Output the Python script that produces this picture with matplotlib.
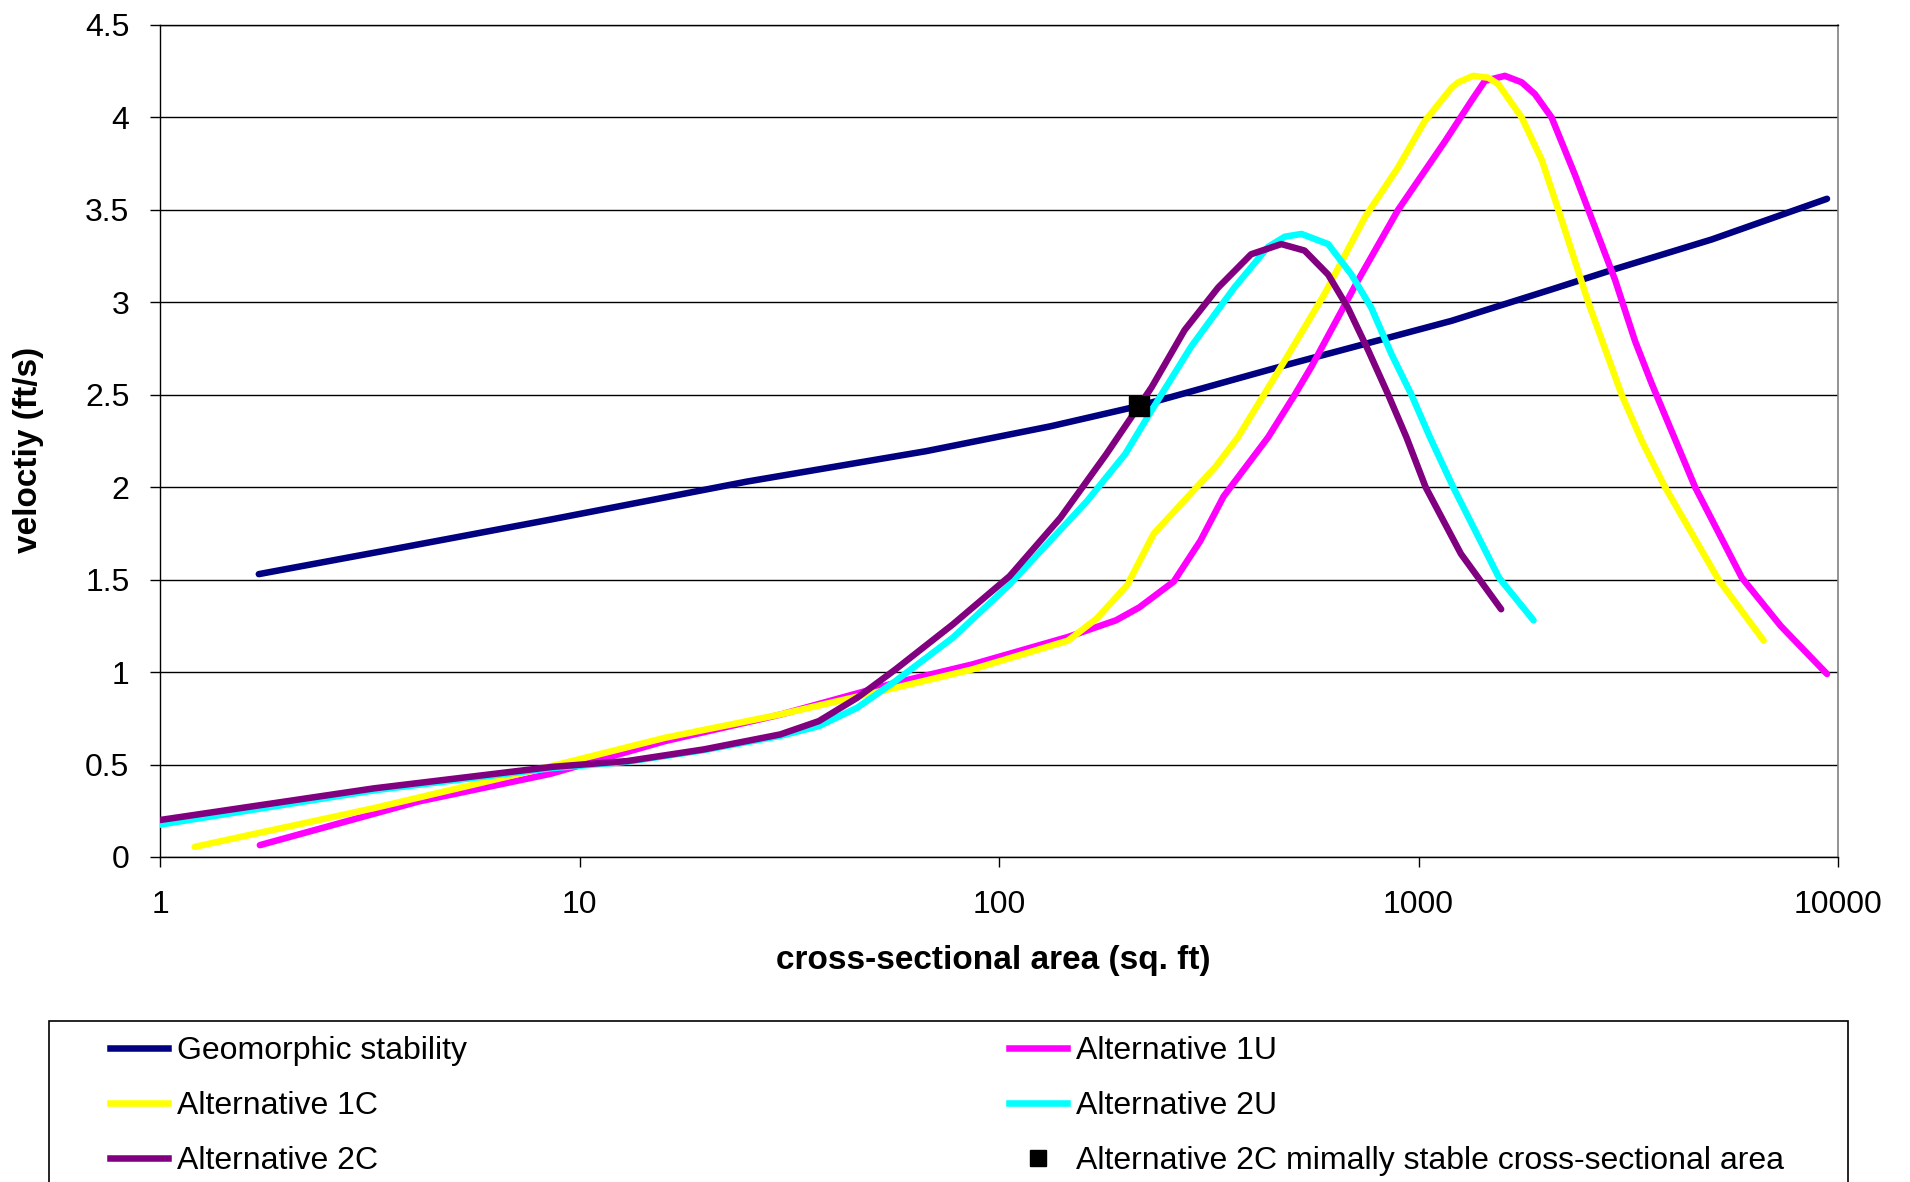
import numpy as np
import matplotlib
matplotlib.use('Agg')
import matplotlib.pyplot as plt
from matplotlib.lines import Line2D
from matplotlib.patches import Rectangle

plt.rcParams['font.family'] = ['Liberation Sans', 'DejaVu Sans']

# values (area in sq. ft, velocity in ft/s)
geo_area = [1.72, 3.5, 8.53, 25, 67, 133, 216, 500, 1199, 2076, 2940, 5000, 9414]
geo_vel = [1.53, 1.66, 1.825, 2.03, 2.195, 2.33, 2.44, 2.67, 2.90, 3.07, 3.18, 3.34, 3.56]

alt1u_area = [1.73, 4.13, 8.53, 16.0, 30.1, 56.6, 86.2, 146, 190, 216, 261, 302, 343, 438,
              507, 555, 718, 894, 1156, 1337, 1440, 1607, 1762, 1895, 2076, 2360, 2636,
              2943, 3283, 3597, 4565, 5900, 7300, 9414]
alt1u_vel = [0.064, 0.30, 0.45, 0.627, 0.77, 0.942, 1.041, 1.19, 1.28, 1.35, 1.49, 1.71, 1.95,
             2.27, 2.50, 2.65, 3.12, 3.5, 3.87, 4.09, 4.198, 4.225, 4.19, 4.126, 4.0, 3.69,
             3.405, 3.12, 2.79, 2.56, 2.0, 1.51, 1.25, 0.99]

alt1c_area = [1.21, 3.23, 8.53, 16.0, 30.1, 56.6, 86.2, 146, 171, 202, 234, 328, 371, 480,
              597, 745, 894, 1035, 1199, 1244, 1350, 1466, 1549, 1762, 1967, 2155, 2539,
              3050, 3407, 3872, 5190, 6650]
alt1c_vel = [0.055, 0.264, 0.49, 0.645, 0.771, 0.915, 1.014, 1.17, 1.29, 1.47, 1.75, 2.11,
             2.27, 2.685, 3.045, 3.46, 3.73, 3.98, 4.16, 4.19, 4.225, 4.215, 4.18, 4.0, 3.77,
             3.5, 3.0, 2.5, 2.25, 2.0, 1.5, 1.17]

alt2u_area = [1, 3.23, 8.53, 13, 19.8, 30.1, 37.2, 45.9, 56.6, 77.6, 106, 162, 200, 231, 287,
              364, 438, 480, 526, 609, 692, 772, 862, 962, 1065, 1210, 1556, 1880]
alt2u_vel = [0.175, 0.36, 0.48, 0.515, 0.578, 0.655, 0.708, 0.807, 0.951, 1.186, 1.474, 1.924,
             2.18, 2.415, 2.76, 3.08, 3.30, 3.355, 3.37, 3.315, 3.15, 2.97, 2.72, 2.50, 2.27,
             2.0, 1.51, 1.28]

alt2c_area = [1, 3.23, 8.61, 13, 19.8, 30.1, 37.2, 45.9, 56.6, 77.6, 106, 140, 180, 231, 277,
              333, 399, 471, 535, 609, 679, 759, 847, 936, 1040, 1262, 1574]
alt2c_vel = [0.20, 0.371, 0.4875, 0.519, 0.582, 0.663, 0.735, 0.861, 1.014, 1.258, 1.519, 1.834,
             2.177, 2.54, 2.85, 3.08, 3.26, 3.315, 3.28, 3.15, 2.97, 2.74, 2.50, 2.27, 2.0,
             1.64, 1.34]

stable_area = [216]
stable_vel = [2.44]

x_ticks = [1, 10, 100, 1000, 10000]
x_labels = ['1', '10', '100', '1000', '10000']
y_ticks = [0, 0.5, 1, 1.5, 2, 2.5, 3, 3.5, 4, 4.5]
y_labels = ['0', '0.5', '1', '1.5', '2', '2.5', '3', '3.5', '4', '4.5']

W, H = 1910, 1182
fig = plt.figure(figsize=(W / 100, H / 100), dpi=100)
ax = fig.add_axes([160 / W, 1 - 857 / H, 1678 / W, 832 / H])

lw = 4.7
style = dict(lw=lw, solid_capstyle='round', solid_joinstyle='round', zorder=3)
ax.plot(geo_area, geo_vel, color='#000080', **style)
ax.plot(alt1u_area, alt1u_vel, color='#FF00FF', **style)
ax.plot(alt1c_area, alt1c_vel, color='#FFFF00', **style)
ax.plot(alt2u_area, alt2u_vel, color='#00FFFF', **style)
ax.plot(alt2c_area, alt2c_vel, color='#800080', **style)
ax.plot(stable_area, stable_vel, 's', color='black', markersize=14, zorder=4)

ax.set_xscale('log')
ax.set_xlim(1, 10000)
ax.set_ylim(0, 4.5)
ax.set_xticks(x_ticks)
ax.set_xticklabels(x_labels)
ax.xaxis.set_minor_locator(matplotlib.ticker.NullLocator())
ax.set_yticks(y_ticks)
ax.set_yticklabels(y_labels)
ax.tick_params(axis='both', direction='out', length=7, width=1.0, labelsize=23, color='black')
ax.tick_params(axis='x', pad=17)
ax.tick_params(axis='y', pad=15)
ax.grid(axis='y', color='black', lw=1.0, zorder=1)
ax.set_axisbelow(True)
for s in ['left', 'bottom', 'top']:
    ax.spines[s].set_color('black')
    ax.spines[s].set_linewidth(1.0)
ax.spines['right'].set_color('#808080')
ax.spines['right'].set_linewidth(1.2)

fig.text(993 / W, 1 - 960 / H, 'cross-sectional area (sq. ft)', fontsize=24,
         fontweight='bold', ha='center', va='center')
fig.text(29 / W, 1 - 450 / H, 'veloctiy (ft/s)', fontsize=24, fontweight='bold',
         rotation=90, ha='center', va='center')

# legend box (bottom edge falls outside the picture)
fig.patches.append(Rectangle((49 / W, -0.05), (1848 - 49) / W, (H - 1021) / H + 0.05,
                             transform=fig.transFigure, fill=False, ec='black', lw=1.2))

h_geo = Line2D([], [], color='#000080', lw=lw)
h_1c = Line2D([], [], color='#FFFF00', lw=lw)
h_2c = Line2D([], [], color='#800080', lw=lw)
h_1u = Line2D([], [], color='#FF00FF', lw=lw)
h_2u = Line2D([], [], color='#00FFFF', lw=lw)
h_pt = Line2D([], [], ls='none', marker='s', color='black', markersize=12)

leg_kw = dict(loc='upper left', frameon=False, fontsize=23, handlelength=1.8,
              handletextpad=0.3, labelspacing=0.78, borderpad=0, borderaxespad=0)
leg1 = fig.legend([h_geo, h_1c, h_2c],
                  ['Geomorphic stability', 'Alternative 1C', 'Alternative 2C'],
                  bbox_to_anchor=(110 / W, 1 - 1036 / H), **leg_kw)
leg2 = fig.legend([h_1u, h_2u, h_pt],
                  ['Alternative 1U', 'Alternative 2U',
                   'Alternative 2C mimally stable cross-sectional area'],
                  bbox_to_anchor=(1009 / W, 1 - 1036 / H), **leg_kw)

fig.savefig('out.png', dpi=100)
